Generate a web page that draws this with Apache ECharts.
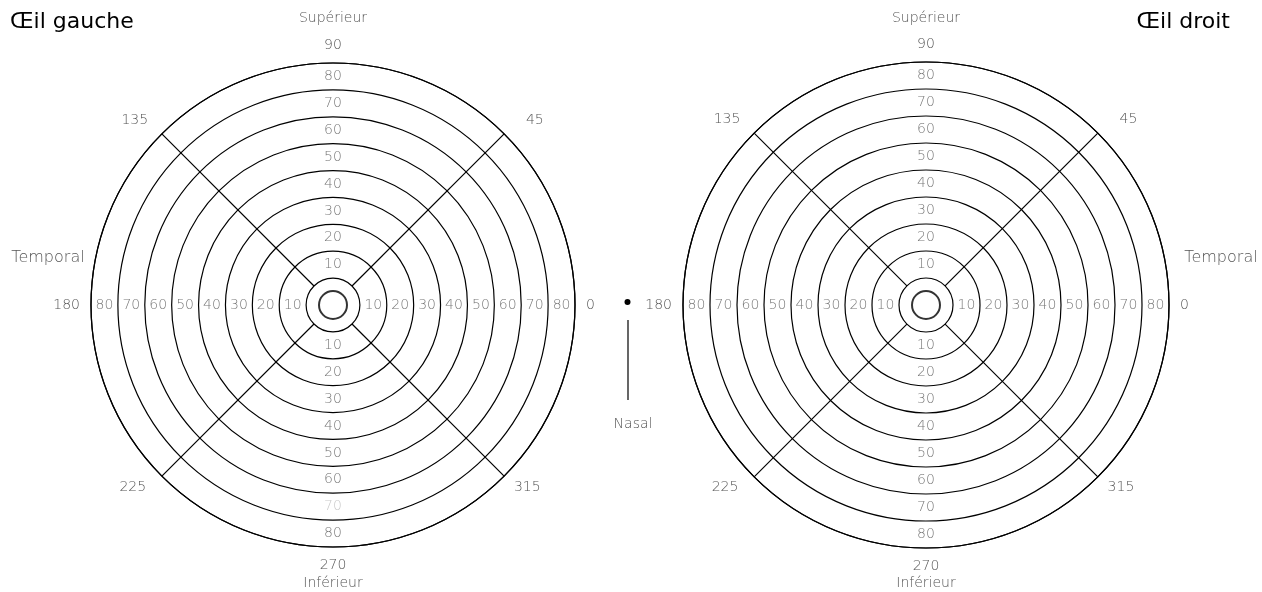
<!DOCTYPE html>
<html>
<head>
<meta charset="utf-8">
<script src="https://cdn.jsdelivr.net/npm/echarts@6/dist/echarts.min.js"></script>
<style>
  html, body { margin: 0; padding: 0; background: #fff; }
  #chart-container { width: 1262px; height: 592px; }
</style>
</head>
<body>
<div id="chart-container"></div>
<script>
// eccentricity bands (degrees), labels are written in the middle of each band
const rings = [10, 20, 30, 40, 50, 60, 70, 80, 90];
const bandLabels = [10, 20, 30, 40, 50, 60, 70, 80];
const meridians = [0, 90, 180, 270];
const diagonals = [45, 135, 225, 315];
const angleLabels = [0, 45, 90, 135, 180, 225, 270, 315];
const eyes = ['Œil gauche', 'Œil droit'];
const fixationRing = [[0, 0]];

const FONT = 'DejaVu Sans';
const GREY = '#555';

const polars = [
    { center: [333, 305], radius: 242 },
    { center: [926, 305], radius: 243 }
];

const radiusAxes = [];
const angleAxes = [];
const series = [];

// small per-label nudges so the angle numbers sit like in the original
const angleRich = {
    a0: {}, a90: {}, a180: {}, a270: {},
    a45: { padding: [0, 0, -1, 14] },
    a135: { padding: [0, 6, -1, 0] },
    a225: { padding: [-4, 8, 0, 0] },
    a315: { padding: [-4, 0, 0, 2] }
};
Object.keys(angleRich).forEach(function (k) {
    angleRich[k] = Object.assign({ fontFamily: FONT, fontSize: 14, fontWeight: 200, color: GREY }, angleRich[k]);
});

polars.forEach(function (p, idx) {
    radiusAxes.push({
        polarIndex: idx,
        type: 'value',
        min: 0,
        max: 90,
        interval: 10,
        axisLine: { show: false },
        axisTick: { show: false },
        axisLabel: { show: false },
        splitLine: { show: true, lineStyle: { color: '#000', width: 1.2 } }
    });
    angleAxes.push({
        polarIndex: idx,
        type: 'value',
        min: 0,
        max: 360,
        interval: 45,
        startAngle: 0,
        clockwise: false,
        axisLine: { show: true, lineStyle: { color: '#000', width: 1.2 } },
        axisTick: { show: false },
        splitLine: { show: false },
        axisLabel: {
            show: true,
            margin: 11,
            formatter: function (v) {
                if (v === 360 || angleLabels.indexOf(v) < 0) return '';
                return '{a' + v + '|' + v + '}';
            },
            rich: angleRich
        }
    });

    // band numbers along the four meridians
    const labelData = [];
    meridians.forEach(function (ang) {
        bandLabels.forEach(function (b) {
            const item = { name: String(b), value: [b + 5, ang] };
            if (idx === 0 && ang === 270 && b === 70) {
                item.label = { color: '#bbb' };
            }
            labelData.push(item);
        });
    });
    series.push({
        type: 'scatter',
        coordinateSystem: 'polar',
        polarIndex: idx,
        symbolSize: 0,
        silent: true,
        label: {
            show: true,
            position: 'inside',
            formatter: '{b}',
            fontFamily: FONT,
            fontSize: 14,
            fontWeight: 200,
            color: GREY
        },
        data: labelData,
        z: 5
    });

    // oblique meridians, from 10 to 90 degrees
    diagonals.forEach(function (ang) {
        series.push({
            type: 'line',
            coordinateSystem: 'polar',
            polarIndex: idx,
            showSymbol: false,
            silent: true,
            lineStyle: { color: '#000', width: 1.2 },
            data: [[rings[0], ang], [rings[rings.length - 1], ang]]
        });
    });

    // central fixation ring
    series.push({
        type: 'scatter',
        coordinateSystem: 'polar',
        polarIndex: idx,
        symbol: 'emptyCircle',
        symbolSize: 28,
        silent: true,
        itemStyle: { color: '#000', borderWidth: 1 },
        data: fixationRing
    });
});

const sideTxt = { fontFamily: FONT, fontSize: 14, fontWeight: 200, fill: GREY, align: 'center', verticalAlign: 'middle' };
function txt(x, y, s, size) {
    return { type: 'text', x: x, y: y, style: Object.assign({ text: s }, sideTxt, size ? { fontSize: size } : {}) };
}

const titleStyle = { fontFamily: FONT, fontSize: 22, fontWeight: 'normal', color: '#000' };

const chart = echarts.init(document.getElementById('chart-container'));
chart.setOption({
    animation: false,
    backgroundColor: '#fff',
    title: [
        { text: eyes[0], left: 5, top: 6, textStyle: titleStyle },
        { text: eyes[1], right: 27, top: 6, textStyle: titleStyle }
    ],
    polar: polars,
    radiusAxis: radiusAxes,
    angleAxis: angleAxes,
    series: series,
    graphic: [
        txt(333, 18, 'Supérieur'),
        txt(926, 18, 'Supérieur'),
        txt(333, 583, 'Inférieur'),
        txt(926, 583, 'Inférieur'),
        txt(48, 258, 'Temporal', 16),
        txt(1221, 258, 'Temporal', 16),
        txt(633, 424, 'Nasal'),
        { type: 'circle', shape: { cx: 627.5, cy: 302, r: 3 }, style: { fill: '#000' } },
        { type: 'line', shape: { x1: 628, y1: 320, x2: 628, y2: 400 }, style: { stroke: '#000', lineWidth: 1.2 } }
    ]
});
</script>
</body>
</html>
